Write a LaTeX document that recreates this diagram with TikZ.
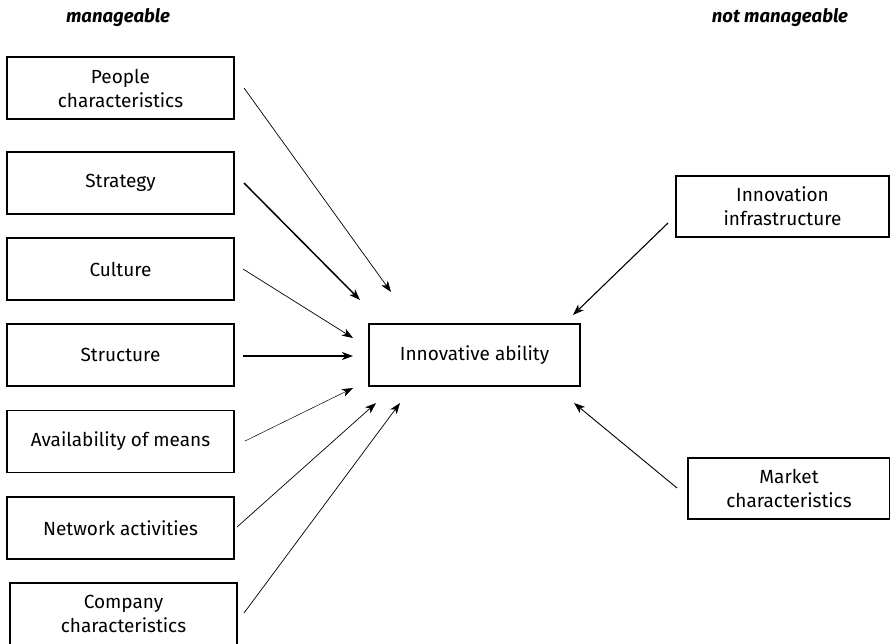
\documentclass[tikz,border=0pt]{standalone}
\usepackage{fontspec}
\setmainfont{Fira Sans}
\usetikzlibrary{arrows.meta}
\begin{document}
\begin{tikzpicture}[x=1pt,y=-1pt,
  box/.style={draw,line width=1.1pt,inner sep=0pt,align=center,font=\fontsize{19}{24}\selectfont},
  head/.style={font=\fontsize{18.5}{22}\selectfont\bfseries\itshape},
  thin/.style={line width=0.7pt,-{Stealth[length=11pt,width=8pt,inset=3pt]}},
  thick/.style={line width=1.5pt,-{Stealth[length=11pt,width=8pt,inset=3pt]}}]
\useasboundingbox (0,0) rectangle (890,643);
\node[head] (hm) at (118,18) {manageable};
\node[head] (hn) at (780,18) {not manageable};
% left boxes
\node[box,minimum width=227pt,minimum height=62pt] (people) at (120.5,88) {People\\characteristics};
\node[box,minimum width=227pt,minimum height=62pt] (strat) at (120.5,183) {Strategy};
\node[box,minimum width=227pt,minimum height=62pt] (cult) at (120.5,269) {Culture};
\node[box,minimum width=227pt,minimum height=62pt] (struc) at (120.5,355) {Structure};
\node[box,minimum width=227pt,minimum height=62pt] (avail) at (120.5,441.5) {Availability of means};
\node[box,minimum width=227pt,minimum height=62pt] (netw) at (120.5,528) {Network activities};
\node[box,minimum width=227pt,minimum height=62pt] (comp) at (123.5,614) {Company\\characteristics};
% centre
\node[box,minimum width=211pt,minimum height=62pt] (inno) at (474.5,355) {Innovative ability};
% right
\node[box,minimum width=213pt,minimum height=61pt] (infra) at (782.5,206.5) {Innovation\\infrastructure};
\node[box,minimum width=202pt,minimum height=61pt] (market) at (789,488.5) {Market\\characteristics};
% free ends
\coordinate (p1) at (244,88);   \coordinate (p2) at (391,292);
\coordinate (s1) at (244,183);  \coordinate (s2) at (360,300);
\coordinate (c1) at (243,269);  \coordinate (c2) at (353,338);
\coordinate (t1) at (243,356);  \coordinate (t2) at (353,356);
\coordinate (a1) at (245,441);  \coordinate (a2) at (353,388);
\coordinate (n1) at (237,527);  \coordinate (n2) at (376,403);
\coordinate (k1) at (244,613);  \coordinate (k2) at (400,403);
\coordinate (i1) at (668,223);  \coordinate (i2) at (573,315);
\coordinate (m1) at (677,488);  \coordinate (m2) at (574,403);
\draw[thin] (p1) -- (p2);
\draw[thick] (s1) -- (s2);
\draw[thin] (c1) -- (c2);
\draw[thick] (t1) -- (t2);
\draw[thin,line width=0.5pt] (a1) -- (a2);
\draw[thin] (n1) -- (n2);
\draw[thin] (k1) -- (k2);
\draw[thick,line width=1.1pt] (i1) -- (i2);
\draw[thin,line width=0.9pt] (m1) -- (m2);
\end{tikzpicture}
\end{document}
